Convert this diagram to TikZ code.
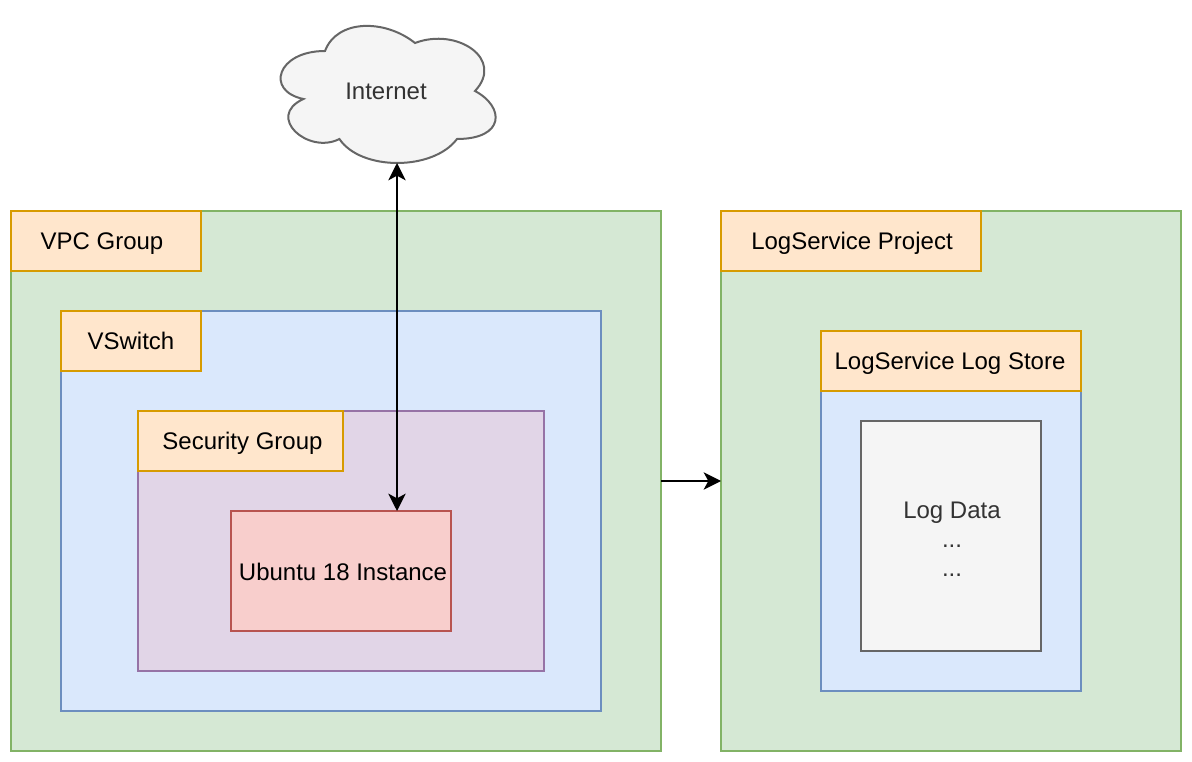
\documentclass[tikz,border=0pt]{standalone}
\usepackage{fontspec}
\setmainfont{Liberation Sans}
\usetikzlibrary{arrows.meta}
\definecolor{greenfill}{HTML}{D5E8D4}
\definecolor{greenline}{HTML}{82B366}
\definecolor{bluefill}{HTML}{DAE8FC}
\definecolor{blueline}{HTML}{6C8EBF}
\definecolor{purplefill}{HTML}{E1D5E7}
\definecolor{purpleline}{HTML}{9673A6}
\definecolor{redfill}{HTML}{F8CECC}
\definecolor{redline}{HTML}{B85450}
\definecolor{orangefill}{HTML}{FFE6CC}
\definecolor{orangeline}{HTML}{D79B00}
\definecolor{grayfill}{HTML}{F5F5F5}
\definecolor{grayline}{HTML}{666666}
\definecolor{graytext}{HTML}{333333}
\tikzset{
  box/.style={draw,line width=1.5pt,inner sep=0pt,outer sep=0pt,anchor=north west,align=center,
    font=\fontsize{18}{21.6}\selectfont},
  vpcbox/.style={box,fill=greenfill,draw=greenline},
  switchbox/.style={box,fill=bluefill,draw=blueline},
  secbox/.style={box,fill=purplefill,draw=purpleline},
  hostbox/.style={box,fill=redfill,draw=redline,text height=17pt,text depth=3.5pt},
  tagbox/.style={box,fill=orangefill,draw=orangeline,text height=17pt,text depth=3.5pt},
  databox/.style={box,fill=grayfill,draw=grayline,text=graytext},
  link/.style={line width=1.5pt,{Stealth[length=13pt,width=13pt,inset=3.5pt]}-{Stealth[length=13pt,width=13pt,inset=3.5pt]}},
  oneway/.style={line width=1.5pt,-{Stealth[length=13pt,width=13pt,inset=3.5pt]}}
}
\begin{document}
\begin{tikzpicture}[x=0.75pt,y=-0.75pt]
 \useasboundingbox (0,0) rectangle (1192,762);
 % left side
 \node[vpcbox,minimum width=487.5pt,minimum height=405pt] (vpc) at (11,211) {};
 \node[tagbox,minimum width=142.5pt,minimum height=45pt] (vpctag) at (11,211) {\hspace*{-6pt}VPC Group};
 \node[switchbox,minimum width=405pt,minimum height=300pt] (vswitch) at (61,311) {};
 \node[tagbox,minimum width=105pt,minimum height=45pt] (vswitchtag) at (61,311) {VSwitch};
 \node[secbox,minimum width=304.5pt,minimum height=195pt] (sec) at (138,411) {};
 \node[tagbox,minimum width=153.75pt,minimum height=45pt] (sectag) at (138,411) {\hspace*{3pt}Security Group};
 \node[hostbox,minimum width=165pt,minimum height=90pt] (ubuntu) at (231,511) {\hspace*{3pt}Ubuntu 18 Instance};
 % right side
 \node[vpcbox,minimum width=345pt,minimum height=405pt] (project) at (721,211) {};
 \node[tagbox,minimum width=195pt,minimum height=45pt] (projecttag) at (721,211) {\hspace*{1.5pt}LogService Project};
 \node[switchbox,minimum width=195pt,minimum height=225pt] (store) at (821,391) {};
 \node[tagbox,minimum width=195pt,minimum height=45pt] (storetag) at (821,331) {\hspace*{-1.5pt}LogService Log Store};
 \node[databox,minimum width=135pt,minimum height=172.5pt] (logdata) at (861,421) {\rule{0pt}{17.5pt}\hspace*{1.5pt}Log Data\\\hspace*{1.5pt}...\\\hspace*{1.5pt}...};
 % cloud
 \draw[line width=1.5pt,draw=grayline,fill=grayfill]
  (325,51) .. controls (277,51) and (265,91) .. (303.4,99)
  .. controls (265,116.6) and (308.2,155) .. (339.4,139)
  .. controls (361,171) and (433,171) .. (457,139)
  .. controls (505,139) and (505,107) .. (475,91)
  .. controls (505,59) and (457,27) .. (415,43)
  .. controls (385,19) and (337,19) .. (325,51) -- cycle;
 \node[font=\fontsize{18}{21.6}\selectfont,text=graytext,text height=17pt,text depth=3.5pt] (internet) at (386,91) {Internet};
 \coordinate (cloudbot) at (397,163);
 % arrows
 \draw[link] (cloudbot) -- (cloudbot |- ubuntu.north);
 \draw[oneway] (vpc.east) -- (project.west);
\end{tikzpicture}
\end{document}
